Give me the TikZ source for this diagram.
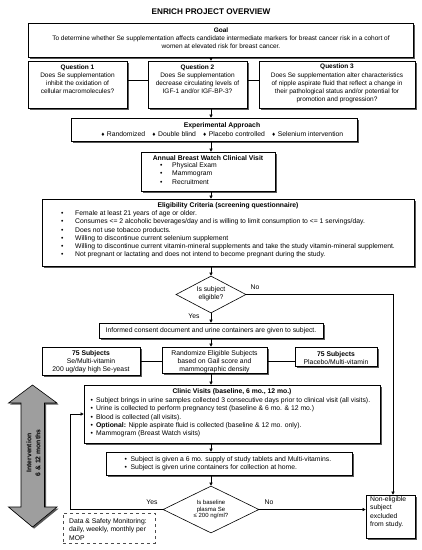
\documentclass[tikz,border=0pt]{standalone}
\usepackage{fontspec}
\setmainfont{Liberation Sans}
\newfontfamily\dv{DejaVu Sans}
\usetikzlibrary{arrows.meta,shapes.geometric,shadows}
\newcommand\bul[1]{\makebox[#1][l]{\textbullet}}
\newcommand\dmd{{\dv\fontsize{4.8}{5}\selectfont ♦}}
\begin{document}
\begin{tikzpicture}[x=1pt,y=-1pt,
  box/.style={draw=black, line width=0.6pt, fill=white, inner sep=0pt,
    drop shadow={shadow xshift=1.6pt, shadow yshift=-1.6pt, fill=black!65, opacity=1}},
  dia/.style={draw=black, diamond, line width=0.6pt, fill=white, inner sep=0pt},
  dsmbox/.style={draw=black!70, dashed, line width=0.6pt, fill=white, inner sep=0pt},
  t/.style={inner sep=0pt, font=\fontsize{6.8}{8.2}\selectfont},
  tq/.style={inner sep=0pt, font=\fontsize{6.5}{8.1}\selectfont},
  ts/.style={inner sep=0pt, font=\fontsize{6.0}{6.7}\selectfont},
  tb/.style={inner sep=0pt, font=\fontsize{6.8}{8.2}\selectfont\bfseries},
  arr/.style={line width=0.5pt, -{Triangle[length=3pt,width=3pt]}},
  ln/.style={line width=0.5pt}]
\useasboundingbox (0,0) rectangle (422,550);

% spine and helper coordinates
\coordinate (sx) at (211,0);
\coordinate (qy) at (0,80);
\coordinate (ry) at (0,361);
\coordinate (nx) at (393,0);
\coordinate (lx) at (70,0);

\node[inner sep=0pt, font=\fontsize{8.2}{9}\selectfont\bfseries] (title) at (211,12) {ENRICH PROJECT OVERVIEW};

% boxes
\node[box, minimum width=385pt, minimum height=34pt] (goal) at (220.5,40) {};
\node[box, minimum width=99pt, minimum height=47pt] (q1) at (77.5,84.5) {};
\node[box, minimum width=99pt, minimum height=47pt] (q2) at (197.5,84.5) {};
\node[box, minimum width=156pt, minimum height=47pt] (q3) at (337,84.5) {};
\node[box, minimum width=286pt, minimum height=23pt] (exp) at (214,129.5) {};
\node[box, minimum width=134pt, minimum height=39pt] (ann) at (208,171.5) {};
\node[box, minimum width=372pt, minimum height=67pt] (elig) at (228,232.5) {};
\node[dia, minimum width=70pt, minimum height=37pt] (d1) at (211,294.5) {};
\node[box, minimum width=224pt, minimum height=15pt] (inf) at (211,330.5) {};
\node[box, minimum width=105pt, minimum height=26pt] (rand) at (214.5,360) {};
\node[box, minimum width=98pt, minimum height=28pt] (se) at (91,361) {};
\node[box, minimum width=82pt, minimum height=19pt] (pl) at (336,356.5) {};
\node[box, minimum width=296pt, minimum height=58pt] (clin) at (232,414) {};
\node[box, minimum width=246pt, minimum height=23pt] (subj) at (229,463.5) {};
\node[dia, minimum width=96pt, minimum height=47pt] (d2) at (211,509.5) {};
\node[box, minimum width=49pt, minimum height=43pt] (nel) at (390.5,516.5) {};
\node[dsmbox, minimum width=92pt, minimum height=30pt] (dsm) at (109,528) {};

% texts
\node[tq, align=center] (goalt) at (221,38) {\textbf{Goal}\\To determine whether Se supplementation affects candidate intermediate markers for breast cancer risk in a cohort of\\women at elevated risk for breast cancer.};
\node[tq, align=center] (q1t) at (77.5,79.5) {\textbf{Question 1}\\Does Se supplementation\\inhibit the oxidation of\\cellular macromolecules?};
\node[tq, align=center] (q2t) at (197.5,79.5) {\textbf{Question 2}\\Does Se supplementation\\decrease circulating levels of\\IGF-1 and/or IGF-BP-3?};
\node[tq, align=center] (q3t) at (337,83.5) {\textbf{Question 3}\\Does Se supplementation alter characteristics\\of nipple aspirate fluid that reflect a change in\\their pathological status and/or potential for\\promotion and progression?};
\node[t, align=center] (expt) at (222,129.5) {\textbf{Experimental Approach}\\\dmd\ Randomized\quad\dmd\ Double blind\quad\dmd\ Placebo controlled\quad\dmd\ Selenium intervention};
\node[tb] (annt) at (208,158) {Annual Breast Watch Clinical Visit};
\node[t, align=left, anchor=north west] (annl) at (160,162.6) {\bul{12pt}Physical Exam\\\bul{12pt}Mammogram\\\bul{12pt}Recruitment};
\node[tb] (eligt) at (228,206) {Eligibility Criteria (screening questionnaire)};
\node[t, align=left, anchor=north west] (eligl) at (61,210.6) {\bul{14pt}Female at least 21 years of age or older.\\
\bul{14pt}Consumes <= 2 alcoholic beverages/day and is willing to limit consumption to <= 1 servings/day.\\
\bul{14pt}Does not use tobacco products.\\
\bul{14pt}Willing to discontinue current selenium supplement\\
\bul{14pt}Willing to discontinue current vitamin-mineral supplements and take the study vitamin-mineral supplement.\\
\bul{14pt}Not pregnant or lactating and does not intend to become pregnant during the study.};
\node[t, align=center] (d1t) at (211,294) {Is subject\\eligible?};
\node[t] (inft) at (211,331) {Informed consent document and urine containers are given to subject.};
\node[t, align=center] (randt) at (214.5,362) {Randomize Eligible Subjects\\based on Gail score and\\mammographic density};
\node[t, align=center] (set) at (91,362) {\textbf{75 Subjects}\\Se/Multi-vitamin\\200 ug/day high Se-yeast};
\node[t, align=center] (plt) at (336,358) {\textbf{75 Subjects}\\Placebo/Multi-vitamin};
\node[tb] (clint) at (232,392) {Clinic Visits (baseline, 6 mo., 12 mo.)};
\node[t, align=left, anchor=north west] (clinl) at (90.5,397.6) {\bul{5.5pt}Subject brings in urine samples collected 3 consecutive days prior to clinical visit (all visits).\\
\bul{5.5pt}Urine is collected to perform pregnancy test (baseline \& 6 mo. \& 12 mo.)\\
\bul{5.5pt}Blood is collected (all visits).\\
\bul{5.5pt}\textbf{Optional:} Nipple aspirate fluid is collected (baseline \& 12 mo. only).\\
\bul{5.5pt}Mammogram (Breast Watch visits)};
\node[t, align=left, anchor=north west] (subjl) at (124.5,456.6) {\bul{6pt}Subject is given a 6 mo. supply of study tablets and Multi-vitamins.\\
\bul{6pt}Subject is given urine containers for collection at home.};
\node[ts, align=center] (d2t) at (211,509.5) {Is baseline\\plasma Se\\≤ 200 ng/ml?};
\node[t, align=left, anchor=north west] (nelt) at (370,496.6) {Non-eligible\\subject\\excluded\\from study.};
\node[t, align=left, anchor=north west] (dsmt) at (69,518.6) {Data \& Safety Monitoring:\\daily, weekly, monthly per\\MOP};

% labels
\node[t] (no1) at (255,287) {No};
\node[t] (yes1) at (194,316) {Yes};
\node[t] (yes2) at (152,502) {Yes};
\node[t] (no2) at (269,502) {No};

% connectors
\draw[arr] (goal.south -| sx) -- (q2.north -| sx);
\draw[ln] (q1.east |- qy) -- (q2.west |- qy);
\draw[ln] (q2.east |- qy) -- (q3.west |- qy);
\draw[arr] (q2.south -| sx) -- (exp.north -| sx);
\draw[arr] (exp.south -| sx) -- (ann.north -| sx);
\draw[arr] (ann.south -| sx) -- (elig.north -| sx);
\draw[arr] (elig.south -| sx) -- (d1.north);
\draw[arr] (d1.south) -- (inf.north -| sx);
\draw[arr] (inf.south -| sx) -- (rand.north -| sx);
\draw[ln] (se.east |- ry) -- (rand.west |- ry);
\draw[ln] (rand.east |- ry) -- (pl.west |- ry);
\draw[arr] (rand.south -| sx) -- (clin.north -| sx);
\draw[arr] (clin.south -| sx) -- (subj.north -| sx);
\draw[arr] (subj.south -| sx) -- (d2.north);
\draw[arr] (d1.east) -- (d1.east -| nx) -- (nel.north -| nx);
\draw[arr] (d2.east) -- (nel.west |- d2.east);
\draw[arr] (d2.west) -- (d2.west -| lx) -- (lx |- clin.west) -- (clin.west);

% intervention double arrow
\path[draw=black, line width=0.6pt, fill=black!38,
  drop shadow={shadow xshift=1.6pt, shadow yshift=-1.6pt, fill=black!65, opacity=1}]
  (32.5,385) -- (57,403) -- (44.5,403) -- (44.5,507) -- (57,507) -- (32.5,527)
  -- (8.5,507) -- (21,507) -- (21,403) -- (8.5,403) -- cycle;
\node[inner sep=0pt, rotate=90, align=center, font=\fontsize{6.8}{9}\selectfont\bfseries] (intv) at (33.5,453) {Intervention\\6 \& 12 months};
\end{tikzpicture}
\end{document}
